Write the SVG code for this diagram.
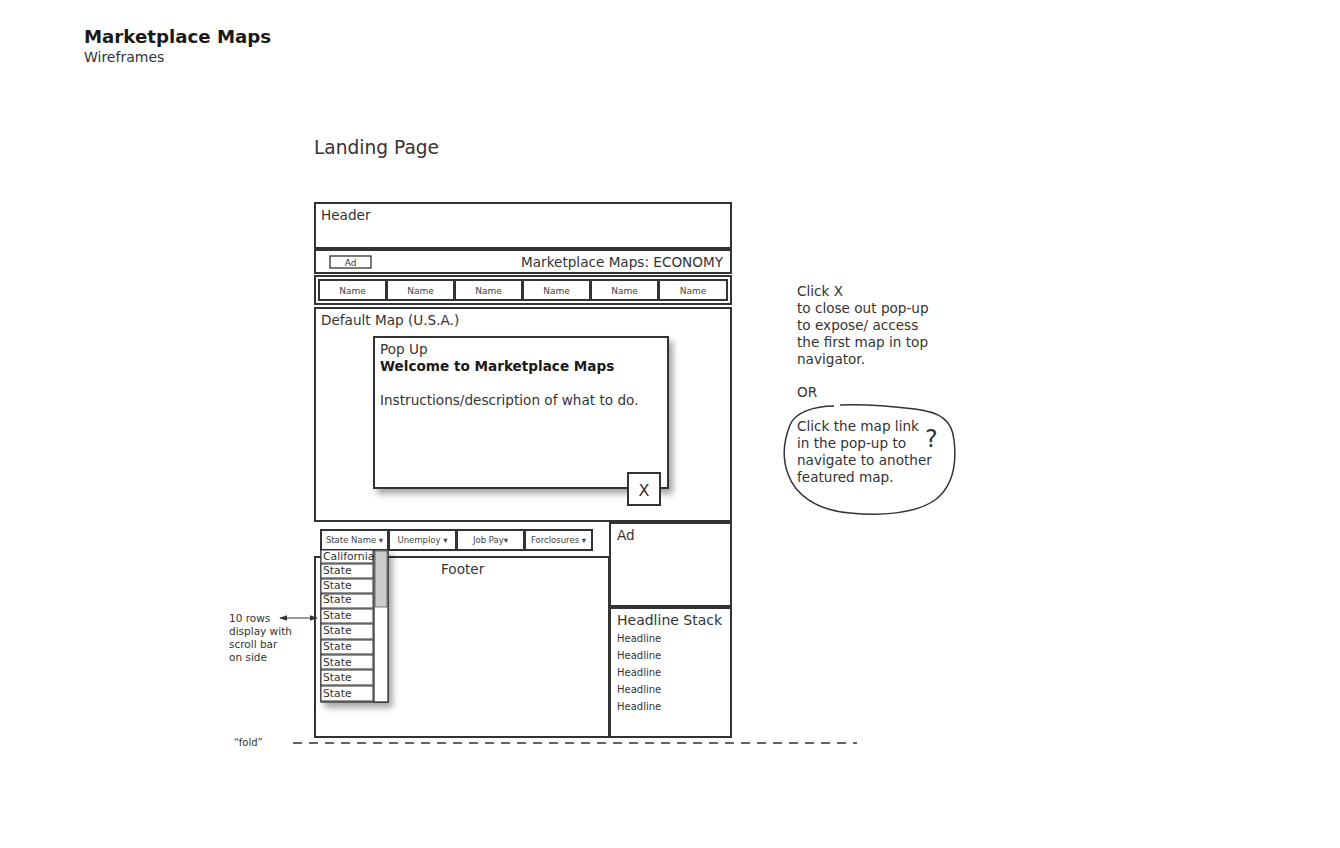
<svg xmlns="http://www.w3.org/2000/svg" width="1340" height="848" viewBox="0 0 1340 848">
<style>
text{font-family:"DejaVu Sans",Verdana,sans-serif;fill:#333}
.box{fill:#fff;stroke:#333;stroke-width:2}
.thin{fill:#fff;stroke:#333;stroke-width:1.3}
.t13{font-size:13.6px}
.t9{font-size:9px}
.t10{font-size:10px}
.t10n{font-size:10.5px}
.name{font-size:9px;text-anchor:middle;fill:#444}
.row{fill:#fff;stroke:#333;stroke-width:1}
.st{font-size:10.8px}
</style>
<defs>
<filter id="sh" x="-10%" y="-10%" width="130%" height="130%">
<feDropShadow dx="4" dy="5" stdDeviation="3" flood-color="#000" flood-opacity="0.35"/>
</filter>
<marker id="ah" viewBox="0 0 10 10" refX="9" refY="5" markerWidth="8" markerHeight="8" orient="auto-start-reverse">
<path d="M0,1.5 L10,5 L0,8.5 z" fill="#333"/>
</marker>
</defs>

<g id="title">
<text x="84" y="43" style="font-size:18.2px;font-weight:bold;fill:#1a1a1a">Marketplace Maps</text>
<text x="84" y="62" style="font-size:14px">Wireframes</text>
<text x="314" y="154" style="font-size:18.6px">Landing Page</text>
</g>

<g id="header">
<rect class="box" x="315" y="203" width="416" height="45"/>
<text class="t13" x="321" y="220">Header</text>
</g>

<g id="brandbar">
<rect class="box" x="315" y="250" width="416" height="23"/>
<rect class="thin" x="330" y="256" width="41" height="12"/>
<text class="t9" x="350.5" y="266" text-anchor="middle">Ad</text>
<text class="t13" x="723" y="267" text-anchor="end">Marketplace Maps: ECONOMY</text>
</g>

<g id="nav">
<rect class="box" x="315" y="276" width="416" height="28"/>
<rect class="box" x="319" y="280" width="67" height="20"/>
<rect class="box" x="387" y="280" width="67" height="20"/>
<rect class="box" x="455" y="280" width="67" height="20"/>
<rect class="box" x="523" y="280" width="67" height="20"/>
<rect class="box" x="591" y="280" width="67" height="20"/>
<rect class="box" x="659" y="280" width="68" height="20"/>
<text class="name" x="352.5" y="294">Name</text>
<text class="name" x="420.5" y="294">Name</text>
<text class="name" x="488.5" y="294">Name</text>
<text class="name" x="556.5" y="294">Name</text>
<text class="name" x="624.5" y="294">Name</text>
<text class="name" x="693" y="294">Name</text>
</g>

<g id="map">
<rect class="box" x="315" y="308" width="416" height="213"/>
<text class="t13" x="321" y="325">Default Map (U.S.A.)</text>
</g>

<g id="popup">
<rect class="box" x="374" y="337" width="294" height="151" filter="url(#sh)"/>
<text class="t13" x="380" y="354">Pop Up</text>
<text class="t13" x="380" y="371" style="font-weight:bold;fill:#1a1a1a">Welcome to Marketplace Maps</text>
<text class="t13" x="380" y="405">Instructions/description of what to do.</text>
</g>

<g id="close">
<rect class="box" x="628" y="473" width="32" height="32"/>
<text x="644" y="496" text-anchor="middle" style="font-size:16px">X</text>
</g>

<g id="ad">
<rect class="box" x="610" y="523" width="121" height="83"/>
<text class="t13" x="617" y="540">Ad</text>
</g>

<g id="headlines">
<rect class="box" x="610" y="608" width="121" height="129"/>
<text x="617" y="625" style="font-size:14px">Headline Stack</text>
<text class="t10" x="617" y="642">Headline</text>
<text class="t10" x="617" y="659">Headline</text>
<text class="t10" x="617" y="676">Headline</text>
<text class="t10" x="617" y="693">Headline</text>
<text class="t10" x="617" y="710">Headline</text>
</g>

<g id="footer">
<rect class="box" x="315" y="557" width="294" height="180"/>
<text class="t13" x="441" y="574">Footer</text>
</g>

<g id="filters">
<rect class="box" x="321" y="530" width="67" height="20"/>
<rect class="box" x="389" y="530" width="67" height="20"/>
<rect class="box" x="457" y="530" width="67" height="20"/>
<rect class="box" x="525" y="530" width="67" height="20"/>
<text class="name" x="354.5" y="543" style="font-size:8.5px">State Name ▾</text>
<text class="name" x="422.5" y="543" style="font-size:8.5px">Unemploy ▾</text>
<text class="name" x="490.5" y="543" style="font-size:8.5px">Job Pay▾</text>
<text class="name" x="558.5" y="543" style="font-size:8.5px">Forclosures ▾</text>
</g>

<g id="statelist">
<rect x="321" y="550" width="67" height="152" fill="#fff" stroke="#333" stroke-width="1.3" filter="url(#sh)"/>
<rect x="374" y="550" width="14" height="152" fill="#fff" stroke="#333" stroke-width="1.3"/>
<rect x="375" y="551" width="12" height="56" fill="#ccc" stroke="#555" stroke-width="0.8"/>
<rect class="row" x="321" y="550" width="52" height="13"/>
<rect class="row" x="321" y="564" width="52" height="14"/>
<rect class="row" x="321" y="579" width="52" height="14"/>
<rect class="row" x="321" y="594" width="52" height="14"/>
<rect class="row" x="321" y="609" width="52" height="14"/>
<rect class="row" x="321" y="624" width="52" height="15"/>
<rect class="row" x="321" y="640" width="52" height="14"/>
<rect class="row" x="321" y="655" width="52" height="14"/>
<rect class="row" x="321" y="670" width="52" height="15"/>
<rect class="row" x="321" y="686" width="52" height="15"/>
<text class="st" x="323" y="560">California</text>
<text class="st" x="323" y="574">State</text>
<text class="st" x="323" y="589">State</text>
<text class="st" x="323" y="603">State</text>
<text class="st" x="323" y="619">State</text>
<text class="st" x="323" y="634">State</text>
<text class="st" x="323" y="650">State</text>
<text class="st" x="323" y="666">State</text>
<text class="st" x="323" y="681">State</text>
<text class="st" x="323" y="697">State</text>
</g>

<g id="rows-note">
<text class="t10n" x="229" y="622">10 rows</text>
<text class="t10n" x="229" y="635">display with</text>
<text class="t10n" x="229" y="648">scroll bar</text>
<text class="t10n" x="229" y="661">on side</text>
</g>

<g id="fold-label">
<text class="t10" x="234" y="746">“fold”</text>
</g>

<g id="notes">
<text class="t13" x="797" y="296">Click X</text>
<text class="t13" x="797" y="313">to close out pop-up</text>
<text class="t13" x="797" y="330">to expose/ access</text>
<text class="t13" x="797" y="347">the first map in top</text>
<text class="t13" x="797" y="364">navigator.</text>
<text class="t13" x="797" y="397">OR</text>
<text class="t13" x="797" y="431">Click the map link</text>
<text class="t13" x="797" y="448">in the  pop-up to</text>
<text class="t13" x="797" y="465">navigate to another</text>
<text class="t13" x="797" y="482">featured map.</text>
<text x="925" y="447" style="font-size:24px;font-family:'DejaVu Sans',sans-serif">?</text>
</g>

<g id="connectors" fill="none" stroke="#333">
<line x1="280" y1="618" x2="317" y2="618" stroke-width="1" marker-start="url(#ah)" marker-end="url(#ah)"/>
<line x1="293" y1="743" x2="857" y2="743" stroke-width="1.5" stroke-dasharray="9,7"/>
<path d="M834,406 C815,406 795,412 790,425 C784,440 782,458 788,474 C795,494 815,510 850,513 C880,516 915,514 935,500 C952,487 957,465 954,440 C952,420 940,412 915,409 C890,406 860,404 840,405" stroke-width="1.5"/>
</g>
</svg>
